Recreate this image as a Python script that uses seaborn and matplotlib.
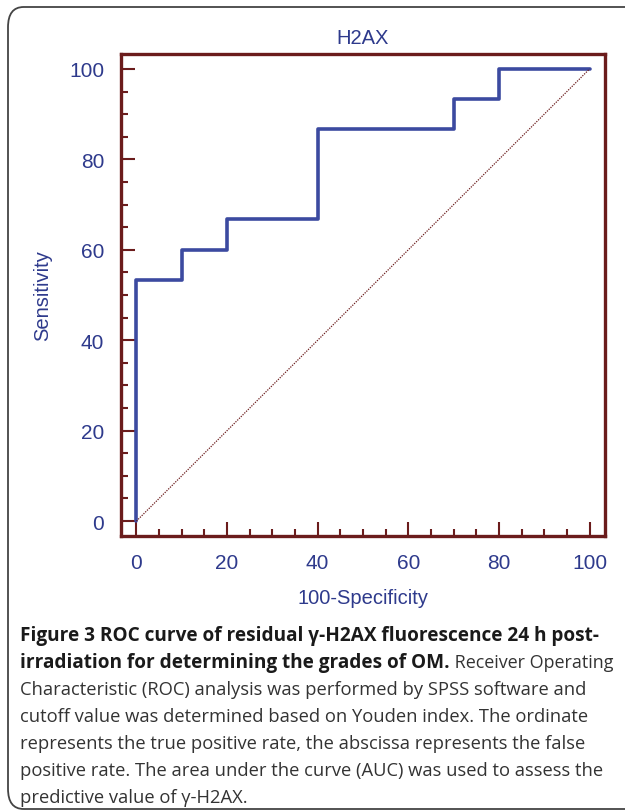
import matplotlib
matplotlib.use("Agg")
import matplotlib.pyplot as plt
from matplotlib.patches import FancyBboxPatch
from matplotlib.ticker import MultipleLocator
import seaborn as sns
import pandas as pd

# ---- data ----
fpr = [0, 0, 10, 20, 40, 70, 80, 100]
tpr = [0, 53.3, 60, 66.7, 86.7, 93.3, 100, 100]
diag_x = [0, 100]
diag_y = [0, 100]
ticks = [0, 20, 40, 60, 80, 100]
title = "H2AX"
xlabel = "100-Specificity"
ylabel = "Sensitivity"
caption_bold_1 = "Figure 3 ROC curve of residual \u03b3-H2AX fluorescence 24 h post-"
caption_bold_2 = "irradiation for determining the grades of OM."
caption_reg_2 = " Receiver Operating"
caption_rest = [
    "Characteristic (ROC) analysis was performed by SPSS software and",
    "cutoff value was determined based on Youden index. The ordinate",
    "represents the true positive rate, the abscissa represents the false",
    "positive rate. The area under the curve (AUC) was used to assess the",
    "predictive value of \u03b3-H2AX.",
]

sns.set_theme(style="white")
plt.rcParams['font.family'] = ['Liberation Sans', 'DejaVu Sans']

W, H = 625, 812
fig = plt.figure(figsize=(W / 100, H / 100), dpi=100)

navy = "#2e3a8c"
line_c = "#3c4aa0"
frame_c = "#6b1c1c"

# outer rounded box
box = FancyBboxPatch((8 / W, 1 - 810 / H), (680 - 8) / W, (810 - 8) / H,
                     boxstyle="round,pad=0,rounding_size=0.025",
                     transform=fig.transFigure, fill=False,
                     edgecolor="#444444", linewidth=1.3, zorder=0)
fig.patches.append(box)

ax = fig.add_axes([121 / W, 1 - 537 / H, (605 - 121) / W, (537 - 55) / H])
ax.set_facecolor("none")

df = pd.DataFrame({"fpr": fpr, "tpr": tpr})
sns.lineplot(data=df, x="fpr", y="tpr", estimator=None, sort=False,
             drawstyle="steps-post", color=line_c, linewidth=2.6, ax=ax)
ddf = pd.DataFrame({"x": diag_x, "y": diag_y})
sns.lineplot(data=ddf, x="x", y="y", estimator=None, sort=False,
             color=frame_c, linewidth=0.9, linestyle=(0, (1, 1)), ax=ax)

ax.set_xlim(-3.4, 103.4)
ax.set_ylim(-3.3, 103.3)
ax.set_xticks(ticks)
ax.set_yticks(ticks)
ax.xaxis.set_minor_locator(MultipleLocator(5))
ax.yaxis.set_minor_locator(MultipleLocator(5))
ax.tick_params(which="both", bottom=True, left=True, top=False, right=False)
ax.tick_params(which="major", direction="in", length=10, width=1.5,
               color=frame_c, labelsize=15, labelcolor=navy)
ax.tick_params(which="minor", direction="in", length=5, width=1.5, color=frame_c)
ax.tick_params(axis="x", which="major", pad=12)
ax.tick_params(axis="y", which="major", pad=12)
for s in ax.spines.values():
    s.set_color(frame_c)
    s.set_linewidth(2.4)

ax.set_xlabel(xlabel, fontsize=14.5, color=navy, labelpad=12)
ax.set_ylabel(ylabel, fontsize=14.5, color=navy, labelpad=12)
ax.set_title(title, fontsize=14.5, color=navy, pad=8)

# caption
cap_family = ['Open Sans', 'DejaVu Sans']
fs_b = 13.7
fs_r = 13.2
x0 = 20 / W
ys = [636, 663, 690, 717, 744, 771, 798]
fig.text(x0, 1 - ys[0] / H, caption_bold_1, fontsize=fs_b, fontweight="bold",
         family=cap_family, color="#1a1a1a", va="center")
t2 = fig.text(x0, 1 - ys[1] / H, caption_bold_2, fontsize=fs_b, fontweight="bold",
              family=cap_family, color="#1a1a1a", va="center")
fig.canvas.draw()
bb = t2.get_window_extent(renderer=fig.canvas.get_renderer())
fig.text(bb.x1 / W, 1 - ys[1] / H, caption_reg_2, fontsize=fs_r - 0.3,
         family=cap_family, color="#333333", va="center")
for y, line in zip(ys[2:], caption_rest):
    fig.text(x0, 1 - y / H, line, fontsize=fs_r, family=cap_family,
             color="#333333", va="center")

fig.savefig("out.png", dpi=100)
